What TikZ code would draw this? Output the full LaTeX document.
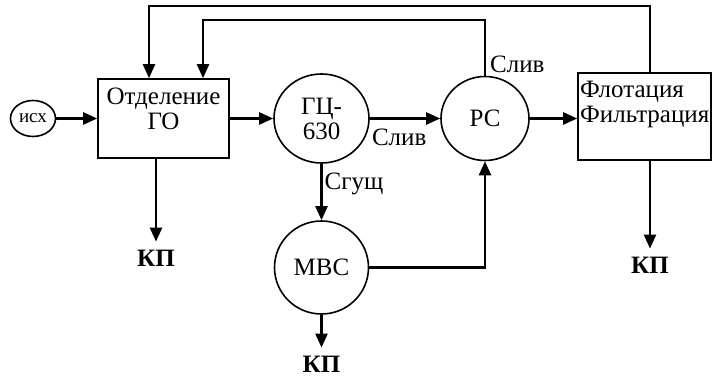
\documentclass[tikz,border=0pt]{standalone}
\usepackage{fontspec}
\setmainfont{Liberation Serif}
\usetikzlibrary{arrows.meta,shapes.geometric}
\tikzset{>={Triangle[length=14pt,width=12pt]}}

\begin{document}
\begin{tikzpicture}[x=1pt, y=1pt,
    unit/.style={draw, line width=1.6pt, inner sep=0pt},
    flow/.style={->, line width=2.4pt},
    txt/.style={font=\fontsize{25}{25}\selectfont},
    outlet/.style={font=\fontsize{25}{25}\selectfont\bfseries, inner sep=8pt}]
  \useasboundingbox (0,0) rectangle (712,379);
  % apparatus
  \node[unit, ellipse, minimum width=45pt, minimum height=36pt,
        font=\fontsize{19}{21}\selectfont] (isx) at (33,260.5) {исх};
  \node[unit, minimum width=131pt, minimum height=79pt] (otd) at (163.5,260.5) {};
  \node[txt, align=center] (otdtxt) at (163.5,270.5) {Отделение\\ГО};
  \node[unit, ellipse, minimum width=95pt, minimum height=89pt, txt, align=center]
        (gc) at (321.5,260.5) {ГЦ-\\630};
  \node[unit, ellipse, minimum width=88pt, minimum height=84pt, txt] (rs) at (485,260.5) {РС};
  \node[unit, minimum width=133pt, minimum height=87pt] (flot) at (644.5,262.5) {};
  \node[txt, align=left, anchor=west, inner sep=1pt] (flottxt) at (579,274.5) {Флотация\\Фильтрация};
  \node[unit, ellipse, minimum width=94pt, minimum height=93pt, txt] (mbc) at (321.5,111.5) {МВС};
  % products
  \node[outlet] (kp1) at (156,121) {КП};
  \node[outlet] (kp2) at (321.5,15) {КП};
  \node[outlet] (kp3) at (650,114) {КП};
  \coordinate (top1) at (149,373);
  \coordinate (top2) at (203,359);
  % flows
  \draw[flow] (isx.east) -- (otd.west);
  \draw[flow] (otd.east) -- (gc.west);
  \draw[flow] (gc.east) -- node[txt, at start, anchor=north west, inner sep=1pt, yshift=-8pt] {Слив} (rs.west);
  \draw[flow] (rs.east) -- (rs.east -| flot.west);
  \draw[flow] (gc.south) -- node[txt, right, inner sep=2pt, pos=0.35] {Сгущ} (mbc.north);
  \draw[flow] (mbc.east) -| (rs.south);
  \draw[flow] (kp1 |- otd.south) -- (kp1);
  \draw[flow] (mbc.south) -- (kp2);
  \draw[flow] (kp3 |- flot.south) -- (kp3);
  % returns
  \draw[flow] (rs.north) |- node[txt, right, pos=0.1, inner sep=4pt] {Слив} (top2) -- (top2 |- otd.north);
  \draw[flow] (kp3 |- flot.north) |- (top1) -- (top1 |- otd.north);
\end{tikzpicture}
\end{document}
